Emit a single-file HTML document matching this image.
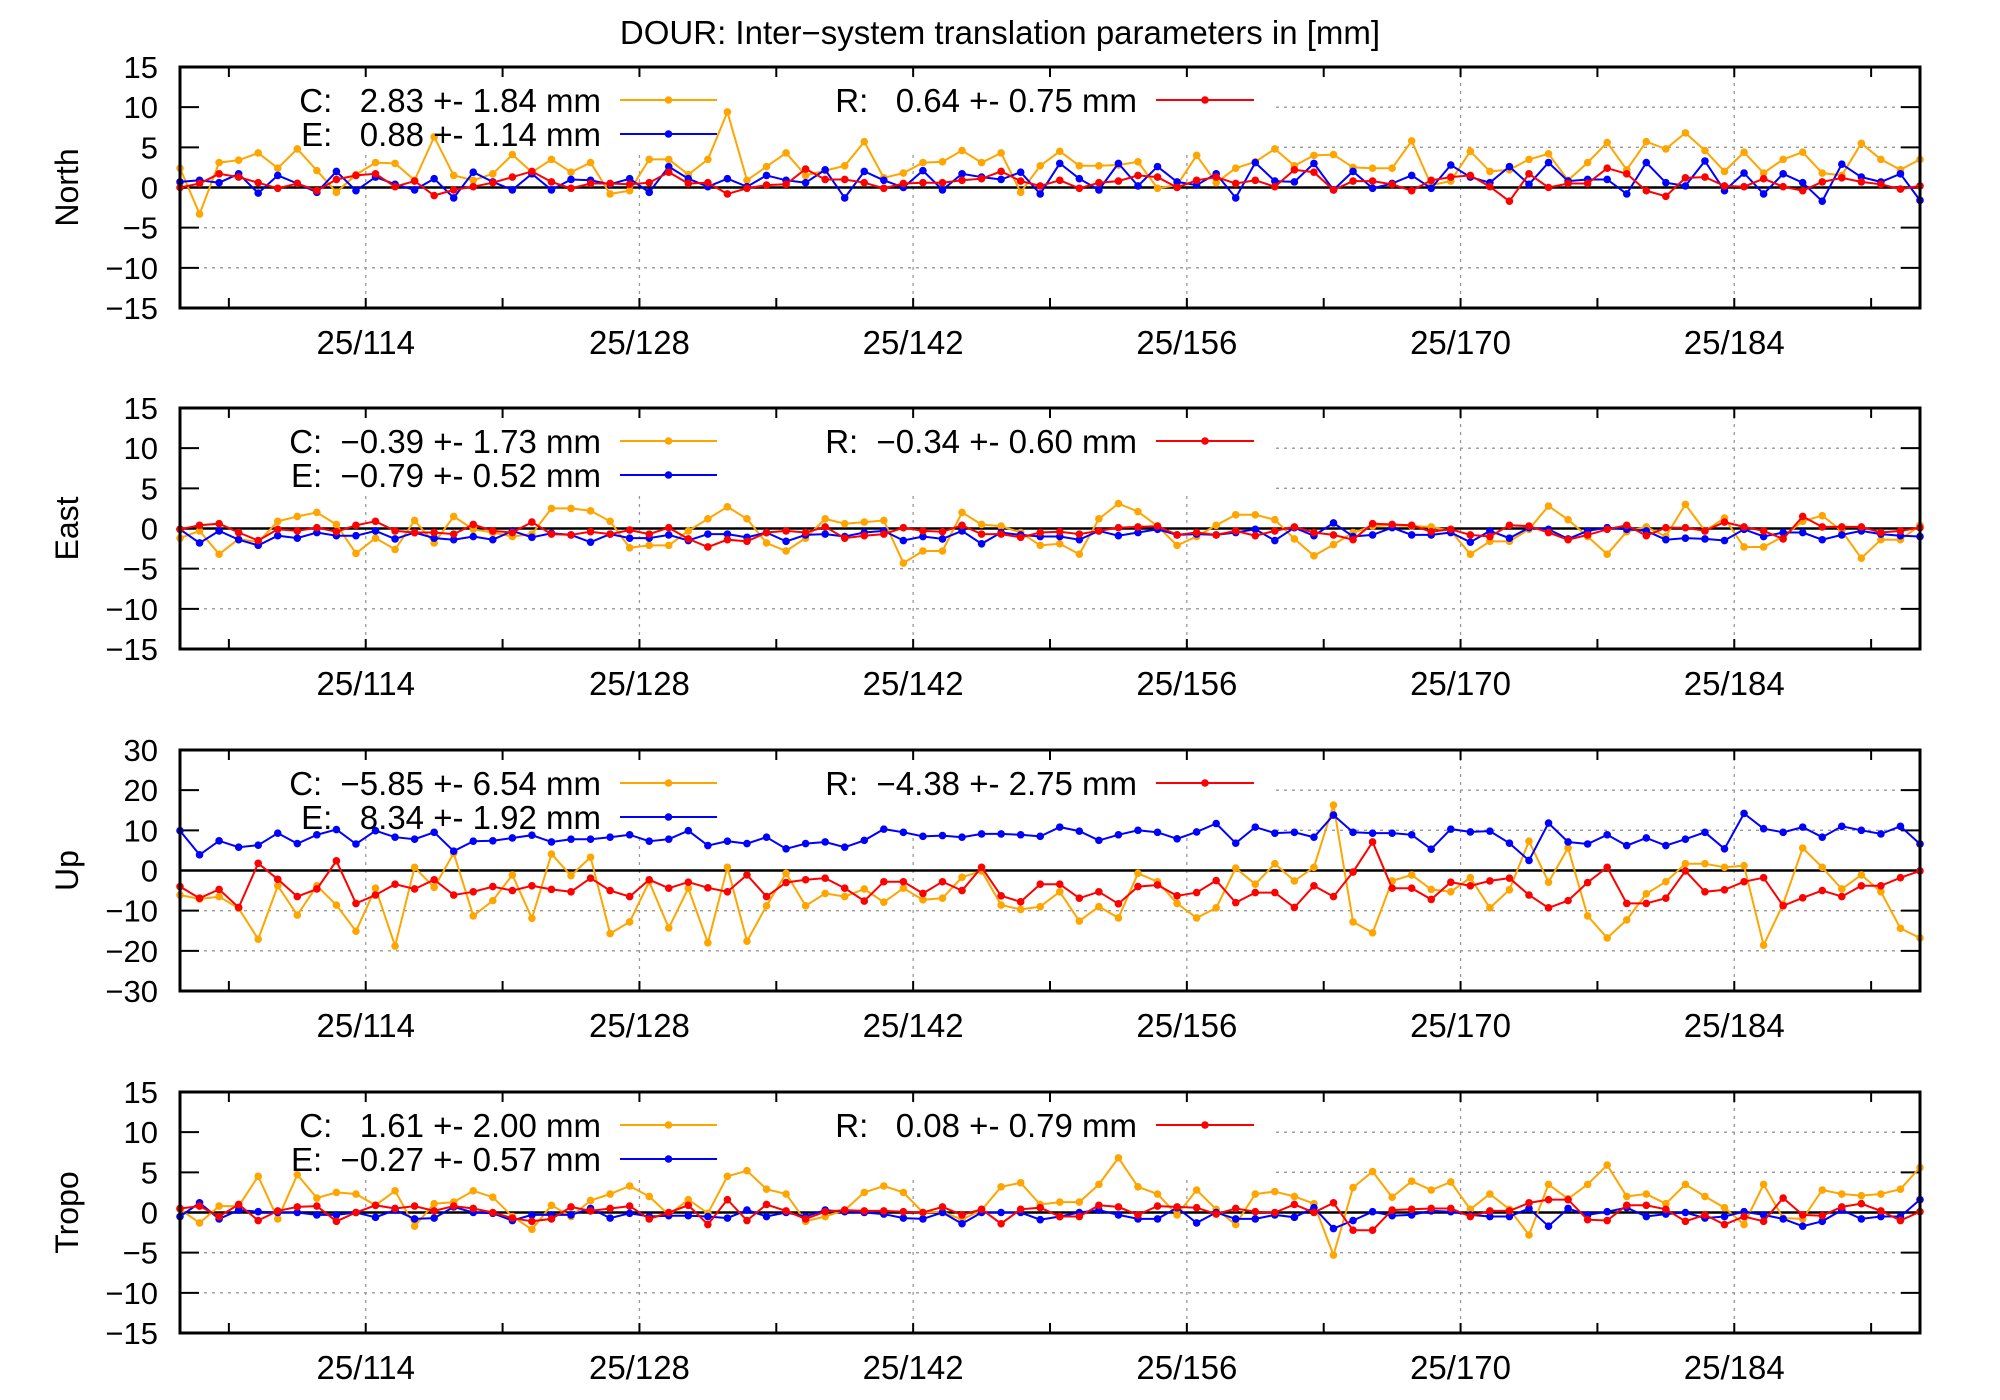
<!DOCTYPE html>
<html><head><meta charset="utf-8"><style>
html,body{margin:0;padding:0;background:#fff;}
svg{display:block;font-family:"Liberation Sans",sans-serif;}
.pre{white-space:pre;}
</style></head><body>
<svg id="chart" xmlns="http://www.w3.org/2000/svg" width="2000" height="1400" viewBox="0 0 2000 1400">
<rect x="0" y="0" width="2000" height="1400" fill="#fff"/>
<text x="1000" y="44" font-size="33" text-anchor="middle">DOUR: Inter−system translation parameters in [mm]</text>
<g id="panels"></g>
</svg>
<script>
const firstDay = 104.5;
const nPoints = 90;
const xTickDays = [114, 128, 142, 156, 170, 184];
const xTickLabels = ["25/114", "25/128", "25/142", "25/156", "25/170", "25/184"];
const xMinorDays = [107, 121, 135, 149, 163, 177, 191];
const panelNames = ["North", "East", "Up", "Tropo"];
const yRanges = [[-15, 15], [-15, 15], [-30, 30], [-15, 15]];
const yTickValues = [[-15,-10,-5,0,5,10,15],[-15,-10,-5,0,5,10,15],[-30,-20,-10,0,10,20,30],[-15,-10,-5,0,5,10,15]];
const legendC = ["C:   2.83 +- 1.84 mm","C:  −0.39 +- 1.73 mm","C:  −5.85 +- 6.54 mm","C:   1.61 +- 2.00 mm"];
const legendE = ["E:   0.88 +- 1.14 mm","E:  −0.79 +- 0.52 mm","E:   8.34 +- 1.92 mm","E:  −0.27 +- 0.57 mm"];
const legendR = ["R:   0.64 +- 0.75 mm","R:  −0.34 +- 0.60 mm","R:  −4.38 +- 2.75 mm","R:   0.08 +- 0.79 mm"];

const northC = [2.4,-3.3,3.1,3.4,4.3,2.4,4.8,2.1,-0.6,1.6,3.1,3.0,0.9,6.3,1.5,0.9,1.7,4.1,1.9,3.5,1.9,3.1,-0.8,-0.4,3.5,3.5,1.6,3.5,9.4,0.9,2.6,4.3,1.5,2.1,2.7,5.7,1.2,1.8,3.1,3.2,4.6,3.1,4.3,-0.6,2.7,4.5,2.7,2.7,2.8,3.2,-0.1,0.3,4.0,0.6,2.4,3.2,4.8,2.7,4.0,4.1,2.5,2.4,2.4,5.8,0.3,0.8,4.5,2.0,2.2,3.5,4.2,0.9,3.1,5.6,2.2,5.7,4.8,6.8,4.6,2.0,4.4,1.8,3.5,4.4,1.8,1.5,5.5,3.5,2.2,3.5];
const northE = [0.7,0.9,0.6,1.7,-0.7,1.5,0.5,-0.6,2.0,-0.4,1.3,0.4,-0.3,1.1,-1.3,1.9,0.7,-0.3,1.7,-0.3,1.0,0.9,0.4,1.1,-0.6,2.6,1.1,0.1,1.1,0.1,1.5,0.9,0.6,2.2,-1.3,2.0,0.9,0,2.1,-0.3,1.7,1.3,1.0,1.9,-0.8,3.0,1.1,-0.3,3.0,0.2,2.6,0.7,0.3,1.7,-1.3,3.1,0.8,0.7,3.0,-0.3,2.0,-0.1,0.5,1.5,-0.1,2.8,1.3,0.6,2.6,0.4,3.1,0.8,1.0,1.0,-0.8,3.1,0.6,0.2,3.3,-0.4,1.8,-0.8,1.7,0.6,-1.7,2.9,1.3,0.7,1.7,-1.6];
const northR = [0,0.5,1.7,1.3,0.6,-0.1,0.5,-0.4,1.0,1.5,1.7,0.1,0.8,-1.0,-0.3,0.1,0.6,1.3,2.0,0.7,-0.1,0.5,0.5,0.4,0.6,1.9,0.5,0.6,-0.8,-0.1,0.3,0.4,2.3,1.0,1.0,0.6,-0.1,0.5,0.6,0.6,0.9,1.1,2.0,0.8,0.2,0.9,-0.1,0.6,0.8,1.5,1.3,0,0.9,1.3,0.5,0.9,0.1,2.2,1.9,-0.3,0.8,0.8,0.4,-0.4,0.9,1.3,1.5,0.1,-1.7,1.7,0,0.5,0.5,2.4,1.7,-0.4,-1.1,1.2,1.3,0.2,0.1,1.1,0.1,-0.4,0.7,1.2,0.7,0.4,-0.2,0.2];

const eastC = [-1.2,-0.3,-3.2,-1.3,-1.7,0.9,1.5,2.0,0.5,-3.1,-1.2,-2.6,1.0,-1.8,1.5,-0.1,-0.5,-1.0,-0.7,2.5,2.5,2.2,0.9,-2.4,-2.1,-2.1,-0.3,1.2,2.7,1.2,-1.8,-2.8,-1.2,1.2,0.6,0.8,1.0,-4.3,-2.8,-2.8,2.0,0.5,0.3,-0.5,-2.1,-1.9,-3.2,1.2,3.1,2.1,0.3,-2.1,-1.0,0.4,1.7,1.7,1.1,-1.3,-3.4,-2.0,-0.5,0.3,0.4,0.3,0.2,-0.3,-3.2,-1.6,-1.6,-0.1,2.8,1.1,-1.0,-3.2,-0.4,0.2,-1.0,3.0,-0.3,1.3,-2.3,-2.3,-1.0,0.9,1.6,-0.3,-3.7,-1.4,-1.4,0.4];
const eastE = [-0.1,-1.8,-0.3,-1.4,-2.1,-0.9,-1.2,-0.5,-0.9,-0.9,-0.3,-1.3,-0.5,-1.2,-1.4,-1.0,-1.4,-0.3,-1.1,-0.6,-0.8,-1.7,-0.7,-1.2,-1.2,-0.8,-1.5,-0.7,-0.7,-1.1,-0.5,-1.6,-0.8,-0.7,-1.0,-0.5,-0.3,-1.5,-1.0,-1.3,-0.3,-1.9,-0.5,-0.8,-1.0,-1.0,-1.4,-0.3,-0.9,-0.5,-0.1,-0.8,-0.7,-0.8,-0.5,-0.1,-1.5,0.1,-0.9,0.7,-1.0,-0.8,0.1,-0.8,-0.8,-0.5,-1.7,-0.3,-1.2,0.1,-0.1,-1.3,-0.3,0.1,-0.1,-0.3,-1.4,-1.2,-1.3,-1.5,-0.1,-1.0,-0.5,-0.5,-1.4,-0.8,-0.3,-0.7,-0.9,-1.0];
const eastR = [-0.1,0.4,0.6,-0.5,-1.5,-0.1,-0.3,0.1,-0.4,0.4,0.9,-0.3,-0.5,-0.5,-0.7,0.5,-0.3,-0.5,0.8,-0.7,-0.8,-0.4,-0.7,-0.2,-0.7,0.1,-1.3,-2.3,-1.4,-1.6,-0.5,-0.3,-0.5,0.2,-1.2,-0.9,-0.7,0.1,-0.3,-0.4,0.4,-0.7,-0.7,-1.1,-0.5,-0.4,-0.7,-0.3,0.1,0.2,0.3,-0.8,-0.5,-0.8,-0.3,-0.9,-0.3,0.2,-0.5,-0.8,-1.4,0.6,0.5,0.4,-0.4,-0.1,-0.8,-1.0,0.4,0.3,-0.5,-1.4,-0.8,-0.1,0.4,-0.9,0.1,0.1,-0.3,0.8,0.2,-0.3,-1.3,1.5,0.2,0.2,0.2,-0.5,-0.3,0.1];

const upC = [-6.1,-7.1,-6.5,-9.4,-17.1,-3.8,-11.1,-3.8,-8.6,-15.1,-4.4,-18.8,0.8,-4.2,4.3,-11.3,-7.5,-1.1,-11.9,4.1,-1.3,3.3,-15.7,-12.8,-2.8,-14.3,-4.4,-18.0,0.8,-17.6,-8.8,-0.7,-8.8,-5.7,-6.5,-4.6,-7.9,-4.4,-7.3,-6.9,-1.7,-0.1,-8.6,-9.7,-9.0,-5.3,-12.6,-9.0,-11.8,-0.7,-2.8,-8.2,-11.8,-9.3,0.6,-3.4,1.7,-2.6,0.8,16.3,-12.8,-15.5,-2.6,-1.1,-4.7,-5.3,-1.8,-9.3,-4.8,7.3,-2.9,5.6,-11.3,-16.8,-12.3,-5.8,-2.8,1.7,1.7,0.8,1.2,-18.6,-8.4,5.6,0.8,-4.6,-1.1,-5.3,-14.4,-16.8];
const upE = [9.9,3.9,7.4,5.8,6.3,9.3,6.7,8.9,10.2,6.6,9.9,8.3,7.8,9.5,4.8,7.3,7.4,8.1,8.8,7.1,7.8,7.8,8.3,8.9,7.3,7.8,9.9,6.2,7.3,6.7,8.3,5.4,6.7,7.1,5.8,7.5,10.3,9.5,8.5,8.7,8.3,9.1,9.1,8.9,8.5,10.8,9.8,7.5,8.9,10.0,9.5,7.9,9.6,11.7,6.8,10.8,9.3,9.5,8.3,13.8,9.5,9.3,9.3,8.9,5.3,10.3,9.6,9.8,6.8,2.5,11.8,7.1,6.6,8.9,6.2,8.1,6.2,7.8,9.5,5.4,14.2,10.4,9.5,10.8,8.3,11.0,10.0,9.1,11.0,6.6];
const upR = [-4.0,-6.9,-4.7,-9.2,1.8,-2.2,-6.5,-4.6,2.4,-8.2,-6.1,-3.4,-4.6,-2.3,-6.1,-5.3,-4.0,-5.0,-3.8,-4.7,-5.3,-1.9,-5.0,-6.5,-2.3,-4.4,-2.9,-4.3,-5.3,-1.1,-6.5,-3.0,-2.3,-1.9,-4.4,-7.6,-2.8,-2.8,-5.7,-2.8,-5.0,0.8,-6.3,-7.8,-3.4,-3.4,-6.9,-5.3,-8.3,-4.0,-3.6,-6.3,-5.5,-2.5,-8.0,-5.5,-5.5,-9.2,-3.8,-6.5,-0.4,7.1,-4.4,-4.4,-7.2,-2.9,-3.8,-2.6,-1.9,-6.1,-9.3,-7.5,-3.0,0.8,-8.2,-8.2,-6.9,-0.1,-5.3,-4.8,-2.8,-1.8,-8.8,-6.8,-5.0,-6.5,-3.8,-3.8,-1.8,-0.1];

const tropoC = [0.4,-1.3,0.8,0.8,4.5,-0.8,4.7,1.8,2.5,2.3,0.9,2.7,-1.7,1.1,1.3,2.7,1.9,-0.5,-2.1,0.9,-0.5,1.5,2.3,3.3,2.0,-0.3,1.6,-0.1,4.5,5.2,2.9,2.3,-1.1,-0.5,0.3,2.5,3.3,2.5,0,0.1,-0.9,0.3,3.2,3.7,1.0,1.3,1.3,3.5,6.8,3.2,2.3,-0.3,2.8,0.4,-1.5,2.3,2.6,2.0,1.1,-5.3,3.1,5.1,1.9,3.9,2.8,3.8,0.4,2.3,0.4,-2.8,3.5,1.7,3.5,5.9,2.0,2.3,1.1,3.5,2.0,0.6,-1.5,3.5,-0.7,-0.8,2.8,2.3,2.1,2.3,2.9,5.6];
const tropoE = [-0.5,1.2,-0.8,0.3,0.1,0,0,-0.3,-0.3,0,-0.6,0.3,-0.8,-0.7,0.7,0,-0.1,-1.0,-0.3,-0.3,-0.3,0.5,-0.7,-0.1,-0.5,-0.4,-0.4,-0.5,-0.7,0.3,-0.5,0,-0.5,0.3,0.1,0,-0.2,-0.7,-0.8,0,-1.4,0,0,0,-0.9,-0.5,0,0.3,-0.3,-0.8,-0.8,0.6,-1.3,0,-0.8,-0.8,-0.3,-0.6,0.6,-2.0,-1.0,0.1,-0.4,-0.3,0.2,0.1,-0.3,-0.5,-0.5,0.5,-1.7,0.5,-0.3,0.1,0.6,-0.5,-0.2,0,-0.7,-0.5,0.1,-0.3,-0.8,-1.7,-1.1,0.3,-0.8,-0.5,-0.5,1.6];
const tropoR = [0.5,0.8,-0.5,1.0,-1.0,0.2,0.7,0.8,-1.1,0,0.9,0.5,0.8,0.2,0.8,0.5,0,-0.7,-1.1,-0.8,0.7,0.2,0.5,0.8,-0.8,0,0.9,-1.5,1.6,-1.0,1.0,0.2,-0.8,0.1,0.3,0.2,0.2,0.1,0,0.7,-0.3,0.4,-1.4,0.4,0.6,-0.5,-0.5,0.9,0.7,-0.3,0.8,0.7,0.6,-0.2,0.5,0.1,0,1.0,0,1.2,-2.2,-2.2,0.3,0.4,0.5,0.5,-0.5,0.2,0.2,1.2,1.6,1.6,-0.9,-1.0,0.9,0.9,0.4,-1.1,-0.3,-1.5,-0.5,-1.1,1.8,-0.3,-0.4,0.7,1.1,0.2,-1.0,0.1];

const panelSeries = [
  [northC, northE, northR],
  [eastC, eastE, eastR],
  [upC, upE, upR],
  [tropoC, tropoE, tropoR]
];

const NS = "http://www.w3.org/2000/svg";
const plotLeft = 180, plotRight = 1920, plotH = 241;
const panelTops = [67, 408, 750, 1092];
const dayMin = 104.5, dayMax = 193.5;
const seriesColors = ["#ffa500", "#0000ff", "#ff0000"];
const seriesKeys = ["c", "e", "r"];
const root = document.getElementById("panels");

function xScale(d) { return plotLeft + (d - dayMin) / (dayMax - dayMin) * (plotRight - plotLeft); }
function mk(tag, attrs, parent) {
  const el = document.createElementNS(NS, tag);
  for (const k in attrs) el.setAttribute(k, attrs[k]);
  parent.appendChild(el);
  return el;
}

panelSeries.forEach((series, p) => {
  const top = panelTops[p], bot = top + plotH;
  const [ymin, ymax] = yRanges[p];
  const yScale = v => bot - (v - ymin) / (ymax - ymin) * plotH;
  const g = mk("g", {}, root);
  
  

  const grid = mk("g", {stroke: "#999", "stroke-width": "1.3", "stroke-dasharray": "3,5"}, g);
  
  
  xTickDays.forEach(d => { mk("line", {x1: xScale(d), x2: xScale(d), y1: top, y2: bot}, grid); });
  yTickValues[p].forEach(v => { if (v > ymin && v < ymax && v !== 0) mk("line", {x1: plotLeft, x2: plotRight, y1: yScale(v), y2: yScale(v)}, grid); });
  const cover = mk("rect", {x: plotLeft + 2, y: top + 2, width: 1094, height: 84, fill: "#fff"}, g);
  
  

  const zl = mk("line", {x1: plotLeft, x2: plotRight, y1: yScale(0), y2: yScale(0), stroke: "#000", "stroke-width": "2.5"}, g);
  
  

  const ticks = mk("g", {stroke: "#000", "stroke-width": "2"}, g);
  
  
  xTickDays.concat(xMinorDays).forEach(d => {
    const x = xScale(d);
    mk("line", {x1: x, x2: x, y1: top, y2: top + 10}, ticks);
    mk("line", {x1: x, x2: x, y1: bot, y2: bot - 10}, ticks);
  });
  yTickValues[p].forEach(v => {
    const y = yScale(v);
    mk("line", {x1: plotLeft, x2: plotLeft + 19, y1: y, y2: y}, ticks);
    mk("line", {x1: plotRight, x2: plotRight - 19, y1: y, y2: y}, ticks);
  });

  yTickValues[p].forEach(v => {
    const t = mk("text", {x: 158, y: yScale(v) + 11, "font-size": "31", "text-anchor": "end"}, g);
    
    
    t.textContent = v < 0 ? "−" + Math.abs(v) : String(v);
  });
  xTickDays.forEach((d, i) => {
    const t = mk("text", {x: xScale(d), y: bot + 46, "font-size": "33", "text-anchor": "middle"}, g);
    
    
    t.textContent = xTickLabels[i];
  });
  const cy = top + plotH / 2;
  const yt = mk("text", {x: 67, y: cy, "font-size": "32", "text-anchor": "middle", transform: "rotate(-90 67 " + cy + ")", dy: "11"}, g);
  
  
  yt.textContent = panelNames[p];

  series.forEach((vals, s) => {
    const sg = mk("g", {}, g);
    
    
    const pts = vals.map((v, i) => xScale(firstDay + i).toFixed(1) + "," + yScale(v).toFixed(1)).join(" ");
    const pl = mk("polyline", {points: pts, fill: "none", stroke: seriesColors[s], "stroke-width": "2"}, sg);
    
    
    vals.forEach((v, i) => {
      const c = mk("circle", {cx: xScale(firstDay + i), cy: yScale(v), r: 3.8, fill: seriesColors[s]}, sg);
      
      
    });
  });

  const legendRows = [
    {txt: legendC[p], x: 601, lx1: 620, lx2: 717, y: top + 33, col: 0},
    {txt: legendE[p], x: 601, lx1: 620, lx2: 717, y: top + 67, col: 1},
    {txt: legendR[p], x: 1137, lx1: 1156, lx2: 1254, y: top + 33, col: 2}
  ];
  legendRows.forEach(r => {
    const lg = mk("g", {}, g);
    
    
    const t = mk("text", {x: r.x, y: r.y + 12, "font-size": "33", "text-anchor": "end", "class": "pre"}, lg);
    
    
    t.textContent = r.txt;
    mk("line", {x1: r.lx1, x2: r.lx2, y1: r.y, y2: r.y, stroke: seriesColors[r.col], "stroke-width": "2"}, lg);
    mk("circle", {cx: (r.lx1 + r.lx2) / 2, cy: r.y, r: 3.8, fill: seriesColors[r.col]}, lg);
  });

  const border = mk("rect", {x: plotLeft, y: top, width: plotRight - plotLeft, height: plotH, fill: "none", stroke: "#000", "stroke-width": "3"}, g);
  
  
});
</script>
</body></html>
